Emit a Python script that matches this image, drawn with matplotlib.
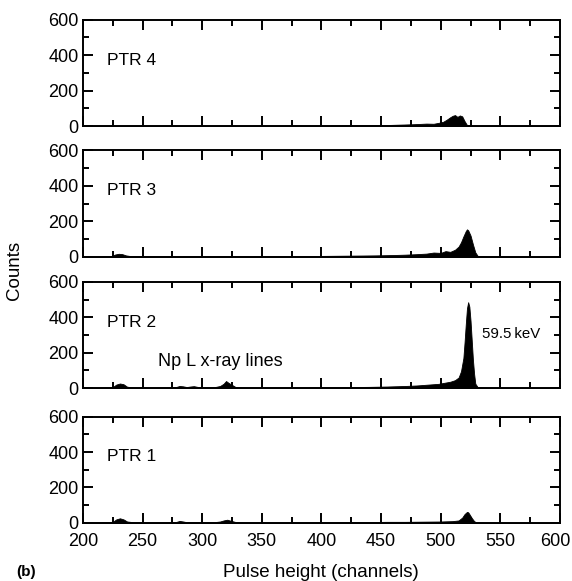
import matplotlib
matplotlib.use("Agg")
import numpy as np
from matplotlib import pyplot as plt
from matplotlib.ticker import MultipleLocator
from matplotlib.transforms import ScaledTranslation

plt.rcParams['font.family'] = ['Liberation Sans', 'DejaVu Sans']

# spectra: channel -> counts
ptr4_ch = [200, 215, 230, 245, 260, 275, 290, 305, 320, 335, 350, 365, 380, 395, 410, 425,
           440, 455, 465, 475, 482, 488, 494, 498, 502, 505, 508, 510, 512, 514, 516, 518,
           520, 522, 525, 540, 560, 580, 600]
ptr4_ct = [2, 3, 2, 3, 2, 3, 2, 3, 3, 2, 3, 3, 4, 3, 4, 5,
           6, 6, 8, 10, 12, 14, 13, 18, 24, 36, 50, 58, 62, 52, 60, 55,
           28, 6, 2, 1, 1, 1, 1]

ptr3_ch = [200, 215, 224, 227, 230, 233, 236, 240, 250, 265, 280, 295, 310, 325, 340, 355,
           370, 385, 400, 415, 430, 445, 460, 470, 480, 488, 494, 500, 504, 508, 512, 515,
           517, 519, 521, 522, 523, 525, 527, 529, 531, 540, 560, 580, 600]
ptr3_ct = [3, 3, 5, 13, 17, 15, 8, 4, 3, 4, 3, 4, 3, 5, 3, 4,
           4, 5, 5, 6, 7, 8, 10, 12, 15, 18, 24, 22, 32, 28, 40, 58,
           82, 115, 145, 155, 150, 120, 70, 25, 5, 2, 1, 1, 1]

ptr2_ch = [200, 215, 225, 228, 231, 234, 237, 242, 255, 270, 278, 281, 284, 287, 290, 293,
           296, 300, 310, 315, 318, 320, 322, 325, 328, 335, 350, 365, 380, 395, 410, 425,
           440, 455, 470, 480, 490, 498, 503, 508, 512, 515, 517, 519, 520, 521, 522, 523,
           524, 525, 526, 527, 528, 529, 531, 540, 560, 580, 600]
ptr2_ct = [3, 4, 6, 20, 26, 22, 8, 4, 3, 4, 6, 12, 10, 6, 9, 11,
           7, 4, 5, 12, 25, 40, 30, 18, 6, 4, 3, 4, 4, 5, 5, 6,
           7, 9, 12, 15, 20, 24, 30, 36, 45, 60, 95, 170, 260, 360, 450, 485,
           460, 380, 270, 160, 80, 25, 5, 2, 1, 1, 1]

ptr1_ch = [200, 215, 225, 228, 231, 234, 237, 242, 255, 270, 278, 281, 284, 287, 292, 300,
           310, 315, 318, 321, 324, 328, 335, 350, 365, 380, 395, 410, 425, 440, 455, 470,
           485, 500, 510, 515, 518, 520, 522, 523, 524, 526, 528, 530, 540, 560, 580, 600]
ptr1_ct = [3, 4, 6, 20, 26, 20, 8, 4, 3, 3, 5, 11, 8, 4, 5, 3,
           4, 8, 14, 18, 12, 5, 3, 3, 3, 3, 4, 4, 5, 5, 6, 6,
           7, 8, 10, 14, 30, 50, 62, 60, 50, 28, 10, 2, 1, 1, 1, 1]

spectra = [("PTR 4", ptr4_ch, ptr4_ct),
           ("PTR 3", ptr3_ch, ptr3_ct),
           ("PTR 2", ptr2_ch, ptr2_ct),
           ("PTR 1", ptr1_ch, ptr1_ct)]

x_ticks = [200, 250, 300, 350, 400, 450, 500, 550, 600]
y_ticks = [0, 200, 400, 600]

fig = plt.figure(figsize=(5.72, 5.81), dpi=100)

bottoms = [0.783, 0.558, 0.332, 0.100]
axes = []
for (name, ch, ct), b in zip(spectra, bottoms):
    ax = fig.add_axes([0.145, b, 0.834, 0.183])
    ax.fill_between(ch, 0, ct, color='black', linewidth=0.6, edgecolor='black')
    ax.set_xlim(200, 600)
    ax.set_ylim(0, 600)
    ax.set_xticks(x_ticks)
    ax.set_yticks(y_ticks)
    ax.xaxis.set_minor_locator(MultipleLocator(25))
    ax.yaxis.set_minor_locator(MultipleLocator(100))
    ax.tick_params(which='both', direction='in', top=True, right=True,
                   width=1.4, labelsize=13, pad=3)
    ax.tick_params(axis='x', which='both', pad=7)
    ax.tick_params(which='major', length=7)
    ax.tick_params(which='minor', length=4)
    for s in ax.spines.values():
        s.set_linewidth(1.4)
    ax.text(220, 372, name, fontsize=12.5, va='center', ha='left')
    if b != bottoms[-1]:
        ax.tick_params(labelbottom=False)
    axes.append(ax)

# keep the last x label inside the figure
last = axes[-1].xaxis.get_major_ticks()[-1].label1
last.set_transform(last.get_transform() + ScaledTranslation(-0.05, 0, fig.dpi_scale_trans))

axes[2].text(263, 150, "Np L x-ray lines", fontsize=13, va='center', ha='left')
axes[2].text(535, 303, "59.5\u2009keV", fontsize=10.8, va='center', ha='left')

fig.text(0.026, 0.534, "Counts", rotation=90, fontsize=13.5, va='center', ha='center')
fig.text(0.561, 0.0, "Pulse height (channels)", fontsize=13.5, va='bottom', ha='center')
fig.text(0.028, 0.004, "(b)", fontsize=11, fontweight='bold', va='bottom', ha='left')

fig.savefig("out.png", dpi=100)
